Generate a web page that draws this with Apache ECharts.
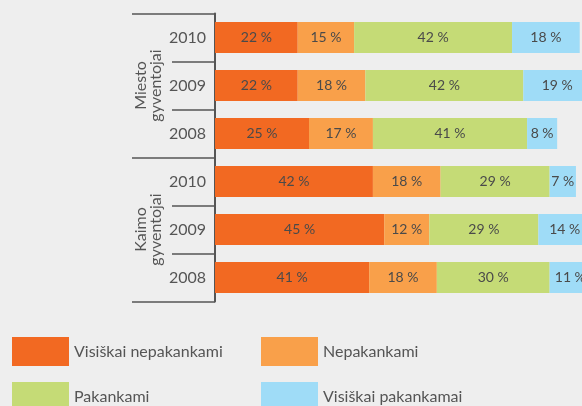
<!DOCTYPE html>
<html>
<head>
<meta charset="utf-8">
<title>Gyventojai</title>
<script src="https://cdn.jsdelivr.net/npm/echarts@6/dist/echarts.min.js"></script>
<style>
  html, body { margin: 0; padding: 0; background: #eeeeee; }
  #main { width: 582px; height: 406px; }
</style>
</head>
<body>
<div id="main"></div>
<script>
// duomenys
var groups = ['Miesto\ngyventojai', 'Kaimo\ngyventojai'];
var years = ['2010', '2009', '2008'];
var seriesNames = ['Visiškai nepakankami', 'Nepakankami', 'Pakankami', 'Visiškai pakankamai'];
// eilės: Miesto 2010, 2009, 2008, Kaimo 2010, 2009, 2008
var visiskaiNepakankami = [22, 22, 25, 42, 45, 41];
var nepakankami = [15, 18, 17, 18, 12, 18];
var pakankami = [42, 42, 41, 29, 29, 30];
var visiskaiPakankamai = [18, 19, 8, 7, 14, 11];
var colors = ['#f26922', '#f9a04a', '#c5db76', '#9fdcf7'];

var yearCats = [];
var groupCats = [];
groups.forEach(function (g) {
    years.forEach(function (y, i) {
        yearCats.push(y);
        groupCats.push(i === 1 ? g : '');
    });
});

var values = [visiskaiNepakankami, nepakankami, pakankami, visiskaiPakankamai];
var font = 'Lato, "Open Sans", sans-serif';

function legendCol(left, names) {
    return {
        orient: 'vertical', left: left, top: 337, height: 120, padding: 0,
        itemWidth: 57, itemHeight: 29, itemGap: 16,
        icon: 'rect',
        data: names,
        textStyle: { fontSize: 16, color: '#555', fontFamily: font }
    };
}

var myChart = echarts.init(document.getElementById('main'));
var option = {
    backgroundColor: '#eeeeee',
    animation: false,
    textStyle: { fontFamily: font },
    grid: { left: 215, top: 13.5, height: 288, width: 376, outerBoundsMode: 'none', containLabel: false },
    xAxis: { type: 'value', min: 0, max: 100, show: false },
    yAxis: [{
        type: 'category',
        inverse: true,
        data: yearCats,
        axisLine: { show: true, lineStyle: { color: '#555', width: 2 } },
        axisTick: { show: true, length: 43, interval: 0, lineStyle: { color: '#555', width: 1.5 } },
        axisLabel: { interval: 0, margin: 9, fontSize: 16, color: '#555', fontFamily: font }
    }, {
        type: 'category',
        inverse: true,
        position: 'left',
        data: groupCats,
        axisLine: { show: false },
        axisTick: {
            show: true, length: 83,
            interval: function (i) { return i % 3 === 0; },
            lineStyle: { color: '#555', width: 1.5 }
        },
        axisLabel: {
            interval: 0, rotate: 90, margin: 52, fontSize: 16, lineHeight: 15,
            color: '#555', fontFamily: font, align: 'center'
        }
    }],
    legend: [
        legendCol(12, [seriesNames[0], seriesNames[2]]),
        legendCol(261, [seriesNames[1], seriesNames[3]])
    ],
    series: seriesNames.map(function (name, k) {
        return {
            name: name,
            type: 'bar',
            stack: 'total',
            barWidth: 31,
            yAxisIndex: 0,
            itemStyle: { color: colors[k] },
            label: {
                show: true,
                position: 'inside',
                formatter: '{c} %',
                fontSize: 14,
                color: '#4a4a4a',
                fontFamily: font
            },
            data: values[k]
        };
    })
};
myChart.setOption(option);
</script>
</body>
</html>
